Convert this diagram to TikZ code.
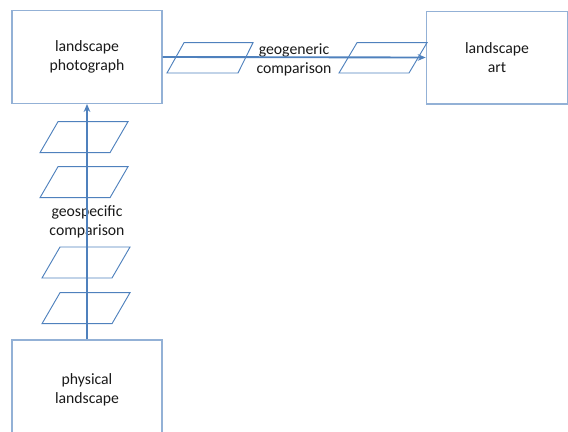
\documentclass[tikz,border=0pt]{standalone}
\usepackage{fontspec}
\setmainfont{Carlito}
\usetikzlibrary{arrows.meta}

\definecolor{boxblue}{RGB}{147,177,214}
\definecolor{lineblue}{RGB}{79,129,189}
\definecolor{textgray}{RGB}{25,25,25}

\tikzset{
	stagebox/.style={draw=boxblue, line width=1pt, minimum width=112.5pt, minimum height=69.5pt, inner sep=0pt, align=center, text=textgray, font=\fontsize{11.8}{14.3}\selectfont},
	flowline/.style={draw=lineblue, line width=1.4pt, -{Stealth[length=6pt,width=5pt]}},
	sheet/.style={draw=lineblue, line width=0.7pt},
	flowlabel/.style={inner sep=0pt, align=center, text=textgray, font=\fontsize{11.8}{14.3}\selectfont}
}

\begin{document}
\begin{tikzpicture}[x=0.75pt,y=0.75pt,yscale=-1,xscale=1]
	\useasboundingbox (0,0) rectangle (568,432);
	\clip (0,0) rectangle (568,432);

	% Boxes
	\node [stagebox] (photo) at (87,57) {landscape\\photograph};
	\node [stagebox, minimum width=106pt] (art) at (497,57.5) {landscape\\art};
	\node [stagebox, minimum height=70.5pt] (phys) at (87,387) {};
	% Text Node
	\node [flowlabel] (physlbl) at (87,390) {physical\\landscape};

	% Sheets along the geogeneric path
	\draw [sheet] (167,73) -- (238,73) -- (253,42.7) -- (184,42.7) -- cycle ;
	\draw [sheet] (339,73) -- (409,73) -- (427,42.7) -- (357,42.7) -- cycle ;
	% Sheets along the geospecific path
	\foreach \yt/\xb in {121.7/40, 166.7/40, 247/42, 292.7/42} {
		\draw [sheet] (\xb,\yt+31) -- (\xb+70,\yt+31) -- (\xb+88,\yt) -- (\xb+18,\yt) -- cycle ;
	}

	% Text Node
	\node [flowlabel] (genericlbl) at (294,59.5) {geogeneric\\comparison};
	% Text Node
	\node [flowlabel] (specificlbl) at (87,221.5) {geospecific\\comparison};

	% Straight Lines
	\draw [flowline] (photo.east) -- (art.west) ;
	\draw [flowline] (phys.north) -- (photo.south) ;

\end{tikzpicture}
\end{document}
